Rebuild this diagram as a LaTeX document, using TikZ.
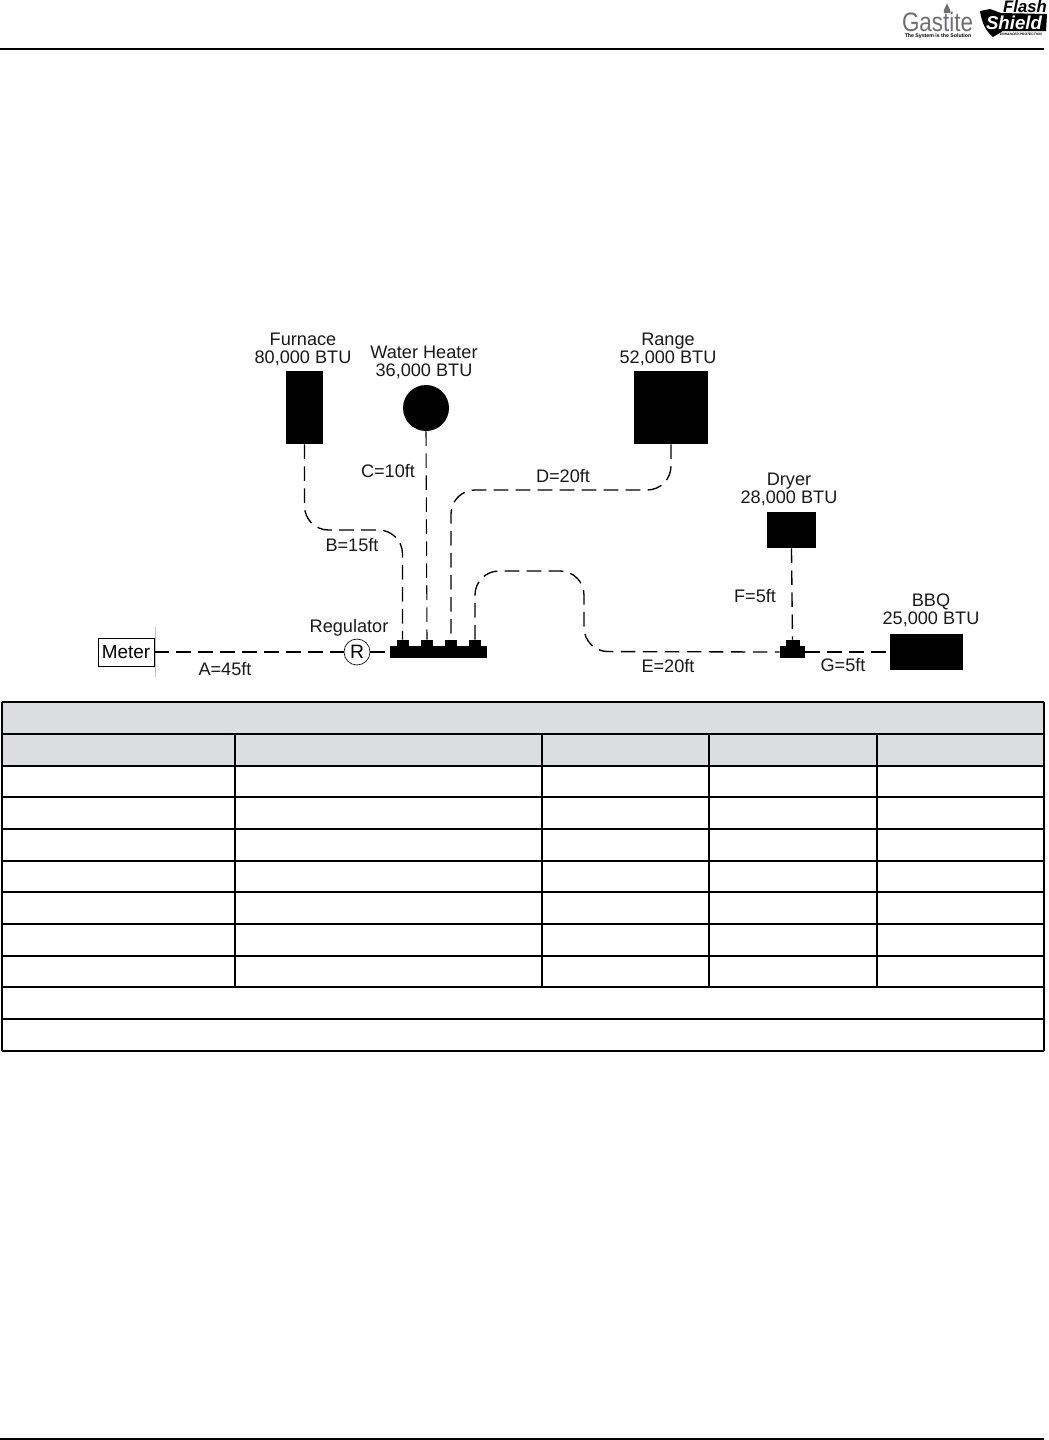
\documentclass[tikz,border=0pt]{standalone}
\usepackage{fontspec}
\setmainfont{Liberation Sans}
\definecolor{hdrgray}{HTML}{DCDDDF}
\definecolor{logogray}{HTML}{6E6F71}
\tikzset{
  label/.style={font=\fontsize{13.6}{13.5}\selectfont,inner sep=0pt,align=center,text=black!90},
  pipe/.style={line width=1pt,dash pattern=on 11pt off 5.5pt,rounded corners=18pt},
  gridline/.style={line width=1.5pt,black},
  manifold/.style={fill=black,draw=none,inner sep=0pt}
}
\begin{document}
\begin{tikzpicture}[x=0.75pt,y=-0.75pt]
\useasboundingbox (0,0) rectangle (1049,1440);
% page rules
\draw[line width=1.5pt] (0,49) -- (1044,49);
\draw[line width=1.5pt] (0,1439) -- (1044,1439);
% logo
\node[font=\fontsize{20}{20}\selectfont,text=logogray,inner sep=0pt,anchor=base,xscale=.84] (gastite) at (937.5,31.5) {Gastite};
\fill[logogray] (947,3) .. controls (948,7) and (951,9) .. (950.5,13) -- (944,13) .. controls (943,9) and (946,7) .. (947,3) -- cycle;
\node[font=\fontsize{3.9}{4}\bfseries\selectfont,inner sep=0pt] (tagline) at (938,36) {The System is the Solution};
\fill[black] (980,11) -- (990,9) -- (1001,13) -- (1047,14) -- (1046,31) -- (1003,31) -- (993,37) .. controls (986,31) and (982,24) .. (980,11) -- cycle;
\node[font=\fontsize{12.5}{12}\bfseries\itshape\selectfont,inner sep=0pt,anchor=base] (flash) at (1025,12) {Flash};
\node[font=\fontsize{14}{14}\bfseries\itshape\selectfont,text=white,inner sep=0pt] (shield) at (1014,23) {Shield};
\node[font=\fontsize{2.5}{3}\bfseries\itshape\selectfont,inner sep=0pt] (enh) at (1021,34.5) {ENHANCED PROTECTION};
% appliances
\node[manifold,minimum width=37*.75pt,minimum height=73*.75pt] (furn) at (304.5,407.5) {};
\node[manifold,circle,minimum size=46*.75pt] (wh) at (426,408) {};
\node[manifold,minimum width=74*.75pt,minimum height=73*.75pt] (range) at (671,407.5) {};
\node[manifold,minimum width=49*.75pt,minimum height=36*.75pt] (dryer) at (791.5,530) {};
\node[manifold,minimum width=73*.75pt,minimum height=36*.75pt] (bbq) at (926.5,652) {};
% meter and regulator
\node[draw,line width=.6pt,minimum width=56*.75pt,minimum height=28*.75pt,inner sep=0pt,font=\fontsize{14.2}{15}\selectfont] (meter) at (126,652) {Meter};
\coordinate (mtop) at (155,627);
\coordinate (mbot) at (155,677);
\draw[line width=.4pt,black!25] (mtop) -- (mbot);
\node[draw,circle,line width=.5pt,minimum size=26*.75pt,inner sep=0pt,font=\fontsize{14.5}{15}\selectfont] (reg) at (357,652) {R};
% manifold
\node[manifold,minimum width=97*.75pt,minimum height=12*.75pt] (man) at (438.5,652) {};
\node[manifold,minimum width=12*.75pt,minimum height=7*.75pt] (p1) at (402.5,643.5) {};
\node[manifold,minimum width=12*.75pt,minimum height=7*.75pt] (p2) at (427,643.5) {};
\node[manifold,minimum width=12*.75pt,minimum height=7*.75pt] (p3) at (451,643.5) {};
\node[manifold,minimum width=12*.75pt,minimum height=7*.75pt] (p4) at (475,643.5) {};
% tee
\node[manifold,minimum width=25*.75pt,minimum height=12*.75pt] (tee) at (792.5,652) {};
\node[manifold,minimum width=14*.75pt,minimum height=7*.75pt] (teetop) at (792.5,643.5) {};
% pipes
\draw[pipe] (meter.east) -- (reg.west);
\draw[pipe] (reg.east) -- (man.west);
\draw[pipe] (furn.south) -- (304.5,530) -- (402.5,530) -- (p1.north);
\draw[pipe,line width=.8pt] (wh.south) -- (p2.north);
\draw[pipe] (range.south) -- (671,490) -- (451,490) -- (p3.north);
\draw[pipe] (p4.north) -- (475,571) -- (584,571) -- (584,651.5) -- (tee.west);
\draw[pipe] (dryer.south) -- (teetop.north);
\draw[pipe] (tee.east) -- (bbq.west);
% labels
\node[label] (lf) at (303,349.5) {Furnace\\80,000 BTU};
\node[label] (lw) at (424,362.5) {Water Heater\\36,000 BTU};
\node[label] (lr) at (668,349) {Range\\52,000 BTU};
\node[label] (ld) at (789,489.5) {Dryer\\28,000 BTU};
\node[label] (lb) at (931,610.5) {BBQ\\25,000 BTU};
\node[label] (lreg) at (349,628) {Regulator};
\node[label] (la) at (225,669) {A=45ft};
\node[label] (lbb) at (352,545) {B=15ft};
\node[label] (lc) at (388,471) {C=10ft};
\node[label] (ldd) at (563,476) {D=20ft};
\node[label] (le) at (668,666) {E=20ft};
\node[label] (lff) at (755,596) {F=5ft};
\node[label] (lg) at (843,665) {G=5ft};
% table
\fill[hdrgray] (2,702) rectangle (1044,766);
\foreach \yy in {702,734,766,797,829,861,892,924,956,987,1019,1051}
  \draw[gridline] (2,\yy) -- (1044,\yy);
\draw[gridline] (2,702) -- (2,1051);
\draw[gridline] (1044,702) -- (1044,1051);
\foreach \xx in {235,542,709,877}
  \draw[gridline] (\xx,734) -- (\xx,987);
\end{tikzpicture}
\end{document}
